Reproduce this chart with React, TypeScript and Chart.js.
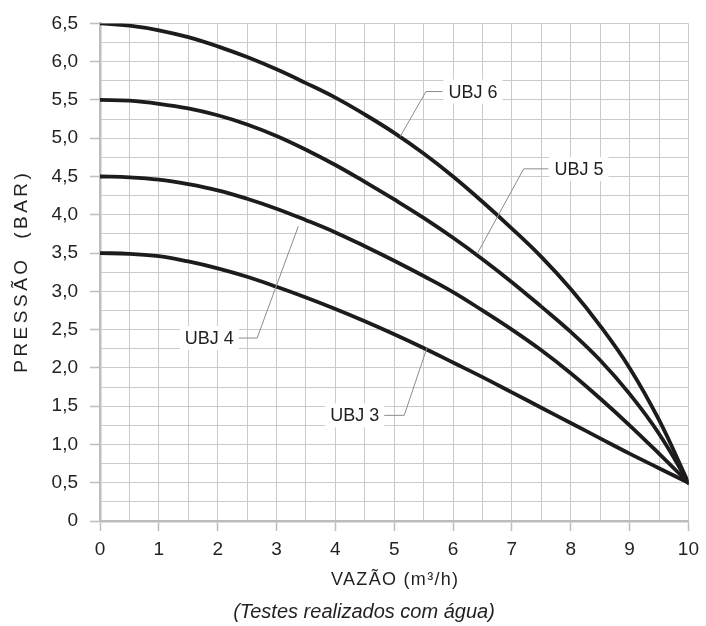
import React, { useEffect, useRef } from 'react';
import { Chart, registerables } from 'chart.js';

Chart.register(...registerables);

// ---- Data ----
const flowValues = [0, 0.5, 1, 1.5, 2, 2.5, 3, 3.5, 4, 4.5, 5, 5.5, 6, 6.5, 7, 7.5, 8, 8.5, 9, 9.5, 10];
const ubj3 = [3.5, 3.49, 3.46, 3.39, 3.3, 3.19, 3.06, 2.92, 2.77, 2.61, 2.44, 2.26, 2.07, 1.88, 1.68, 1.48, 1.28, 1.08, 0.88, 0.69, 0.5];
const ubj4 = [4.5, 4.49, 4.46, 4.4, 4.32, 4.21, 4.08, 3.93, 3.77, 3.59, 3.4, 3.2, 2.99, 2.75, 2.5, 2.23, 1.93, 1.6, 1.25, 0.88, 0.5];
const ubj5 = [5.5, 5.49, 5.45, 5.39, 5.3, 5.18, 5.03, 4.85, 4.65, 4.43, 4.2, 3.96, 3.7, 3.42, 3.12, 2.8, 2.47, 2.1, 1.66, 1.14, 0.5];
const ubj6 = [6.5, 6.47, 6.41, 6.32, 6.2, 6.06, 5.9, 5.72, 5.53, 5.31, 5.07, 4.8, 4.5, 4.17, 3.82, 3.45, 3.03, 2.55, 2.0, 1.32, 0.5];
const seriesNames = ['UBJ 3', 'UBJ 4', 'UBJ 5', 'UBJ 6'];
const seriesValues = [ubj3, ubj4, ubj5, ubj6];

// Label callouts (data units)
const calloutNames = ['UBJ 6', 'UBJ 5', 'UBJ 4', 'UBJ 3'];
const calloutTipX = [5.1, 6.41, 3.37, 5.56];
const calloutTipY = [5.02, 3.49, 3.85, 2.27];
const calloutElbowX = [5.54, 7.2, 2.67, 5.17];
const calloutElbowY = [5.61, 4.6, 2.39, 1.38];
const calloutEndX = [5.82, 7.62, 2.36, 4.83];

const xMin = 0;
const xMax = 10;
const yMin = 0;
const yMax = 6.5;
const xTitle = 'VAZÃO (m³/h)';
const yTitle = 'PRESSÃO  (BAR)';
const caption = '(Testes realizados com água)';

const FONT = '"Liberation Sans", Arial, Helvetica, sans-serif';
const TEXT = '#231f20';
const GRID = '#cbcbcd';
const AXIS = '#bdbdbf';

const isMult = (v: number, step: number) => Math.abs(v / step - Math.round(v / step)) < 1e-6;

const calloutPlugin = {
  id: 'callouts',
  afterDatasetsDraw(chart: any) {
    const { ctx, scales } = chart;
    const xs = scales.x;
    const ys = scales.y;
    ctx.save();
    ctx.font = `18px ${FONT}`;
    ctx.textBaseline = 'middle';
    calloutNames.forEach((name, i) => {
      const tx = xs.getPixelForValue(calloutTipX[i]);
      const ty = ys.getPixelForValue(calloutTipY[i]);
      const ex = xs.getPixelForValue(calloutElbowX[i]);
      const ey = ys.getPixelForValue(calloutElbowY[i]);
      const hx = xs.getPixelForValue(calloutEndX[i]);
      const w = ctx.measureText(name).width;
      const toRight = hx > ex;
      const textX = toRight ? hx + 6 : hx - 5 - w;
      ctx.fillStyle = '#ffffff';
      ctx.fillRect(textX - 5, ey - 12, w + 10, 24);
      ctx.strokeStyle = '#8c8c8c';
      ctx.lineWidth = 1;
      ctx.beginPath();
      ctx.moveTo(tx, ty);
      ctx.lineTo(ex, ey);
      ctx.lineTo(hx, ey);
      ctx.stroke();
      ctx.fillStyle = TEXT;
      ctx.textAlign = 'left';
      ctx.fillText(name, textX, ey + 1);
    });
    ctx.restore();
  },
};

const titlePlugin = {
  id: 'titles',
  afterDraw(chart: any) {
    const { ctx, chartArea } = chart;
    ctx.save();
    ctx.fillStyle = TEXT;
    ctx.textAlign = 'center';
    ctx.textBaseline = 'middle';
    // y title
    ctx.save();
    ctx.font = `19px ${FONT}`;
    (ctx as any).letterSpacing = '3.5px';
    ctx.translate(22, (chartArea.top + chartArea.bottom) / 2 - 1);
    ctx.rotate(-Math.PI / 2);
    ctx.fillText(yTitle, 0, 0);
    ctx.restore();
    // x title
    ctx.save();
    ctx.font = `18px ${FONT}`;
    (ctx as any).letterSpacing = '1.3px';
    ctx.fillText(xTitle, (chartArea.left + chartArea.right) / 2 + 1, 580);
    ctx.restore();
    // caption
    ctx.save();
    ctx.font = `italic 20px ${FONT}`;
    ctx.fillText(caption, 364, 612);
    ctx.restore();
    ctx.restore();
  },
};

export default function App() {
  const ref = useRef<HTMLCanvasElement | null>(null);

  useEffect(() => {
    document.body.style.margin = '0';
    const canvas = ref.current;
    if (!canvas) return;
    const chart = new Chart(canvas, {
      type: 'line',
      data: {
        datasets: seriesNames.map((name, i) => ({
          label: name,
          data: flowValues.map((x, j) => ({ x, y: seriesValues[i][j] })),
          borderColor: '#1e1b1c',
          borderWidth: 3.8,
          pointRadius: 0,
          fill: false,
          tension: 0.4,
          borderJoinStyle: 'round' as const,
          borderCapStyle: 'round' as const,
        })),
      },
      options: {
        responsive: false,
        animation: false,
        devicePixelRatio: 1,
        layout: { padding: { top: 21, right: 13, left: 0, bottom: 0 } },
        plugins: {
          legend: { display: false },
          tooltip: { enabled: false },
          title: { display: false },
        },
        scales: {
          x: {
            type: 'linear',
            min: xMin,
            max: xMax,
            afterFit: (s: any) => {
              s.height = 105;
            },
            ticks: {
              stepSize: 0.5,
              autoSkip: false,
              maxRotation: 0,
              padding: 7,
              color: TEXT,
              font: { family: FONT, size: 19 },
              callback: (v: any) => (isMult(Number(v), 1) ? String(Math.round(Number(v))) : ''),
            },
            grid: {
              color: GRID,
              lineWidth: 1,
              tickLength: 10,
              tickWidth: 1.5,
              tickColor: (c: any) => (c.tick && isMult(c.tick.value, 1) ? AXIS : 'rgba(0,0,0,0)'),
            },
            border: { display: true, color: AXIS, width: 2.5 },
          },
          y: {
            type: 'linear',
            min: yMin,
            max: yMax,
            afterFit: (s: any) => {
              s.width = 100;
            },
            ticks: {
              stepSize: 0.25,
              autoSkip: false,
              padding: 12,
              color: TEXT,
              font: { family: FONT, size: 19 },
              callback: (v: any) => {
                const n = Number(v);
                if (!isMult(n, 0.5)) return '';
                if (Math.abs(n) < 1e-6) return '0';
                return (Math.round(n * 10) / 10).toFixed(1).replace('.', ',');
              },
            },
            grid: {
              color: GRID,
              lineWidth: 1,
              tickLength: 10,
              tickWidth: 1.5,
              tickColor: (c: any) => (c.tick && isMult(c.tick.value, 0.5) ? AXIS : 'rgba(0,0,0,0)'),
            },
            border: { display: true, color: AXIS, width: 2.5 },
          },
        },
      },
      plugins: [calloutPlugin, titlePlugin],
    } as any);
    return () => chart.destroy();
  }, []);

  return (
    <div style={{ width: 706, height: 626, background: '#fff' }}>
      <canvas ref={ref} width={706} height={626} style={{ display: 'block' }} />
    </div>
  );
}
